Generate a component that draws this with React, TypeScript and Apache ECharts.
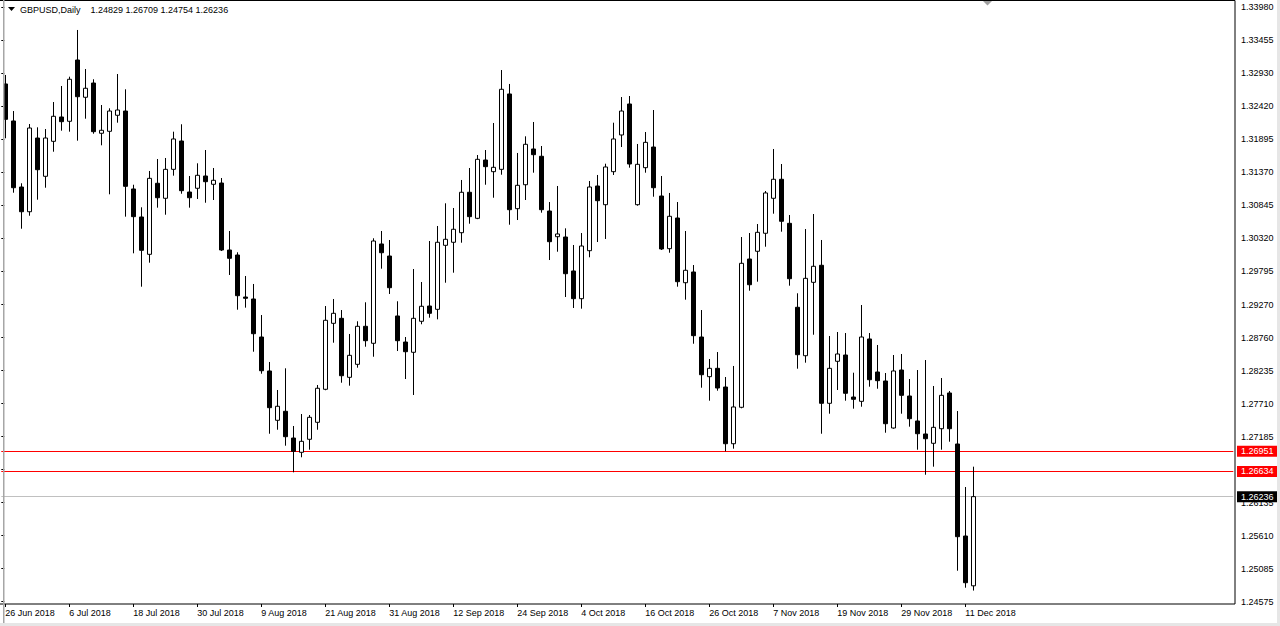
import React, { useEffect, useRef } from "react";
import * as echarts from "echarts";

const FONT = '"Liberation Sans", Arial, sans-serif';
const SYMBOL = "GBPUSD,Daily";
const BAR_COUNT = 122;
const SLOT_COUNT = 154;
const MONTHS = ["Jan", "Feb", "Mar", "Apr", "May", "Jun", "Jul", "Aug", "Sep", "Oct", "Nov", "Dec"];

const opens = [
  1.32748, 1.32164, 1.31122, 1.30732, 1.31895, 1.31291, 1.31843, 1.32227, 1.32159, 1.33126,
  1.32538, 1.32763, 1.3197, 1.32001, 1.32254, 1.32321, 1.31091, 1.30649, 1.3006, 1.31181,
  1.30944, 1.31401, 1.31848, 1.31043, 1.31102, 1.31296, 1.31165, 1.31185, 1.30128, 1.30049,
  1.29386, 1.29355, 1.28755, 1.28219, 1.27441, 1.27583, 1.27161, 1.26936, 1.27141, 1.27409,
  1.2793, 1.28971, 1.2905, 1.28119, 1.28324, 1.28924, 1.28656, 1.30223, 1.30033, 1.29087,
  1.28676, 1.28514, 1.29003, 1.29244, 1.29192, 1.30202, 1.3025, 1.30401, 1.31039, 1.30628,
  1.31548, 1.31364, 1.31401, 1.3259, 1.3078, 1.31158, 1.31722, 1.31607, 1.30743, 1.30338,
  1.30333, 1.29797, 1.2936, 1.30117, 1.31138, 1.30843, 1.31364, 1.31943, 1.32432, 1.30843,
  1.31427, 1.31753, 1.3098, 1.30149, 1.30633, 1.29612, 1.29781, 1.28755, 1.28129, 1.28261,
  1.27966, 1.27071, 1.27646, 1.29986, 1.30108, 1.30392, 1.30944, 1.31244, 1.30549, 1.29224,
  1.2846, 1.29618, 1.29887, 1.27709, 1.28372, 1.28471, 1.27808, 1.2774, 1.28724, 1.28203,
  1.28061, 1.27319, 1.28234, 1.27824, 1.2743, 1.27225, 1.27078, 1.27308, 1.27872, 1.27067,
  1.25615, 1.24829,
];
const closes = [
  1.3219, 1.31111, 1.30732, 1.32053, 1.31395, 1.31895, 1.32238, 1.32153, 1.32822, 1.32547,
  1.3268, 1.31995, 1.32017, 1.32321, 1.32337, 1.31133, 1.30654, 1.30123, 1.31259, 1.30953,
  1.31401, 1.3188, 1.31064, 1.30953, 1.31307, 1.31206, 1.31228, 1.30128, 1.29997, 1.29407,
  1.29366, 1.28807, 1.28223, 1.2764, 1.27662, 1.27182, 1.26951, 1.27109, 1.27488, 1.27946,
  1.29019, 1.29129, 1.28144, 1.28466, 1.28924, 1.28697, 1.3027, 1.30085, 1.29533, 1.28697,
  1.28523, 1.2905, 1.2924, 1.29129, 1.3025, 1.30297, 1.30455, 1.31039, 1.30654, 1.31559,
  1.31443, 1.31433, 1.32664, 1.30764, 1.31149, 1.31796, 1.31632, 1.30764, 1.30259, 1.30381,
  1.29754, 1.2936, 1.30191, 1.31122, 1.30906, 1.31438, 1.3188, 1.32321, 1.31485, 1.3148,
  1.31827, 1.31111, 1.30144, 1.3066, 1.29628, 1.29808, 1.28776, 1.2816, 1.28261, 1.2795,
  1.27071, 1.27651, 1.29918, 1.2958, 1.30407, 1.31028, 1.31244, 1.30581, 1.29675, 1.28476,
  1.29681, 1.29871, 1.27709, 1.28261, 1.28487, 1.27867, 1.27772, 1.28755, 1.28081, 1.28066,
  1.27387, 1.28219, 1.27835, 1.27466, 1.27229, 1.2715, 1.2733, 1.27835, 1.27308, 1.25604,
  1.24878, 1.26236,
];
const lows = [
  1.31891, 1.31032, 1.30464, 1.30669, 1.30922, 1.31111, 1.31679, 1.32011, 1.31995, 1.31853,
  1.322, 1.31963, 1.3178, 1.31007, 1.32137, 1.30654, 1.30076, 1.29549, 1.29928, 1.30796,
  1.30685, 1.31301, 1.31016, 1.30796, 1.30933, 1.30874, 1.30917, 1.30112, 1.29734, 1.29186,
  1.29218, 1.28523, 1.28176, 1.27229, 1.27292, 1.2704, 1.2662, 1.26857, 1.26977, 1.27292,
  1.27915, 1.28665, 1.28034, 1.27987, 1.28271, 1.28602, 1.28444, 1.29833, 1.29434, 1.28534,
  1.28092, 1.2784, 1.28956, 1.2906, 1.29034, 1.29612, 1.2977, 1.30243, 1.30543, 1.30615,
  1.31158, 1.30953, 1.31316, 1.30527, 1.30601, 1.30917, 1.31348, 1.30717, 1.2997, 1.30101,
  1.29386, 1.29213, 1.29202, 1.30013, 1.30254, 1.30302, 1.31312, 1.31753, 1.31427, 1.30827,
  1.31348, 1.30969, 1.30128, 1.30085, 1.29549, 1.29344, 1.28649, 1.27955, 1.2775, 1.27908,
  1.26951, 1.26993, 1.2763, 1.29486, 1.29628, 1.3018, 1.30701, 1.30417, 1.29565, 1.28255,
  1.2835, 1.28791, 1.27229, 1.27545, 1.27919, 1.2775, 1.27624, 1.27655, 1.27971, 1.27939,
  1.27245, 1.27308, 1.27545, 1.2734, 1.26977, 1.26582, 1.26709, 1.26977, 1.27103, 1.25067,
  1.24799, 1.24754,
];
const highs = [
  1.3289, 1.32321, 1.31181, 1.32116, 1.32064, 1.32037, 1.32463, 1.32716, 1.32863, 1.336,
  1.32984, 1.32822, 1.32416, 1.32364, 1.32905, 1.32664, 1.31158, 1.30802, 1.31375, 1.31564,
  1.3158, 1.31995, 1.32112, 1.31296, 1.31496, 1.31706, 1.31422, 1.31264, 1.30428, 1.30092,
  1.29718, 1.29592, 1.29102, 1.28361, 1.27919, 1.28261, 1.27351, 1.2754, 1.27524, 1.27998,
  1.29244, 1.29355, 1.29181, 1.28803, 1.29003, 1.29303, 1.30313, 1.30428, 1.30286, 1.29319,
  1.28755, 1.29828, 1.29623, 1.3027, 1.30507, 1.30865, 1.30791, 1.31233, 1.31422, 1.31627,
  1.31706, 1.32132, 1.32968, 1.32748, 1.31659, 1.31922, 1.32148, 1.31769, 1.30885, 1.31138,
  1.3047, 1.30207, 1.30396, 1.31217, 1.31312, 1.3149, 1.32137, 1.32542, 1.32558, 1.31801,
  1.3199, 1.32337, 1.31296, 1.31028, 1.30885, 1.30428, 1.29891, 1.29181, 1.28408, 1.28518,
  1.28124, 1.28298, 1.30333, 1.30396, 1.30538, 1.31059, 1.31722, 1.31485, 1.3068, 1.29445,
  1.30459, 1.30696, 1.30286, 1.28771, 1.28834, 1.28818, 1.28192, 1.2926, 1.28818, 1.28629,
  1.28187, 1.28471, 1.28487, 1.28092, 1.28234, 1.28392, 1.27982, 1.28108, 1.27903, 1.27587,
  1.26388, 1.26709,
];

// price scale tick labels, bottom to top
const priceLabels = [
  "1.24575", "1.25085", "1.25610", "1.26135", "1.26660", "1.27185", "1.27710", "1.28235",
  "1.28760", "1.29270", "1.29795", "1.30320", "1.30845", "1.31370", "1.31895", "1.32420",
  "1.32930", "1.33455", "1.33980",
];

// horizontal levels
const levelValues = [1.26951, 1.26634, 1.26236];
const levelLineColors = ["#ff0000", "#ff0000", "#c0c0c0"];
const levelBoxColors = ["#ff0000", "#ff0000", "#000000"];

const PRICE_MIN = 1.24542;
const PRICE_MAX = 1.34073;

function tradingDays(): string[] {
  const out: string[] = [];
  const d = new Date(Date.UTC(2018, 5, 26));
  while (out.length < BAR_COUNT) {
    const wd = d.getUTCDay();
    if (wd !== 0 && wd !== 6) {
      out.push(`${d.getUTCDate()} ${MONTHS[d.getUTCMonth()]} ${d.getUTCFullYear()}`);
    }
    d.setUTCDate(d.getUTCDate() + 1);
  }
  return out;
}

export default function App() {
  const ref = useRef<HTMLDivElement>(null);

  useEffect(() => {
    if (!ref.current) return;
    const chart = echarts.init(ref.current, null, { renderer: "svg" });

    const dates = tradingDays();
    const categories = [
      ...dates,
      ...Array.from({ length: SLOT_COUNT - BAR_COUNT }, (_, k) => `shift${k}`),
    ];
    const candles = opens.map((o, i) => [o, closes[i], lows[i], highs[i]]);
    const showTick = (index: number) => index % 8 === 0 && index < BAR_COUNT;
    const last = BAR_COUNT - 1;
    const headerValues = [opens[last], highs[last], lows[last], closes[last]]
      .map((v) => v.toFixed(5))
      .join(" ");

    const option: any = {
      animation: false,
      backgroundColor: "#ffffff",
      textStyle: { fontFamily: FONT },
      grid: [
        { left: 1.3, top: 0, width: 1232, height: 604, show: false, outerBoundsMode: "none", containLabel: false },
        { left: 1.3, right: 45, top: 7.3, height: 594.4, show: false, outerBoundsMode: "none", containLabel: false },
      ],
      xAxis: [
        {
          type: "category",
          gridIndex: 0,
          data: categories,
          boundaryGap: true,
          axisLine: { show: false },
          axisTick: {
            show: true,
            interval: showTick,
            alignWithLabel: true,
            length: 3,
            lineStyle: { color: "#000", width: 1 },
          },
          axisLabel: {
            show: true,
            interval: showTick,
            align: "left",
            margin: 4,
            fontSize: 9,
            fontFamily: FONT,
            color: "#000",
          },
          splitLine: { show: false },
        },
        { type: "value", gridIndex: 1, show: false, min: 0, max: 1 },
      ],
      yAxis: [
        {
          type: "value",
          gridIndex: 0,
          min: PRICE_MIN,
          max: PRICE_MAX,
          show: false,
          splitLine: { show: false },
        },
        {
          type: "category",
          gridIndex: 1,
          position: "right",
          data: priceLabels,
          boundaryGap: false,
          axisLine: { show: false },
          axisTick: { show: true, length: 3, interval: 0, lineStyle: { color: "#000", width: 1 } },
          axisLabel: {
            show: true,
            interval: 0,
            margin: 6,
            fontSize: 9,
            fontFamily: FONT,
            color: "#000",
          },
          splitLine: { show: false },
        },
      ],
      series: [
        {
          type: "candlestick",
          xAxisIndex: 0,
          yAxisIndex: 0,
          data: candles,
          barWidth: 4,
          itemStyle: {
            color: "#ffffff",
            color0: "#000000",
            borderColor: "#000000",
            borderColor0: "#000000",
            borderColorDoji: "#000000",
            borderWidth: 1,
          },
          markLine: {
            silent: true,
            z: 1,
            precision: 5,
            symbol: ["none", "none"],
            data: levelValues.map((v, i) => ({
              yAxis: v,
              lineStyle: { color: levelLineColors[i], width: 1, type: "solid" },
              label: {
                show: true,
                position: "end",
                distance: 3.7,
                formatter: () => v.toFixed(5),
                color: "#ffffff",
                backgroundColor: levelBoxColors[i],
                padding: [1, 4, 0, 4],
                lineHeight: 10,
                fontSize: 9,
                fontFamily: FONT,
              },
            })),
          },
        },
      ],
      graphic: [
        {
          type: "rect",
          silent: true,
          z: 100,
          shape: { x: -2, y: 0.5, width: 1237, height: 603.5 },
          style: { fill: "none", stroke: "#000000", lineWidth: 1 },
        },
        { type: "rect", silent: true, z: 101, shape: { x: 3, y: 0, width: 1.5, height: 626 }, style: { fill: "#a6a6a6" } },
        { type: "rect", silent: true, z: 101, shape: { x: 1277, y: 0, width: 3, height: 626 }, style: { fill: "#e6e6e6" } },
        { type: "rect", silent: true, z: 101, shape: { x: 0, y: 623, width: 1280, height: 3 }, style: { fill: "#e6e6e6" } },
        {
          type: "polygon",
          silent: true,
          z: 102,
          shape: { points: [[8, 7], [15, 7], [11.5, 11]] },
          style: { fill: "#000000" },
        },
        {
          type: "polygon",
          silent: true,
          z: 102,
          shape: { points: [[983, 1], [992, 1], [987.5, 5.5]] },
          style: { fill: "#a0a0a0" },
        },
        {
          type: "text",
          silent: true,
          z: 102,
          x: 20,
          y: 9.5,
          style: { text: SYMBOL, fill: "#000", font: `9px ${FONT}`, verticalAlign: "middle", align: "left" },
        },
        {
          type: "text",
          silent: true,
          z: 102,
          x: 90.5,
          y: 9.5,
          style: { text: headerValues, fill: "#000", font: `9px ${FONT}`, verticalAlign: "middle", align: "left" },
        },
      ],
    };

    chart.setOption(option);
    return () => chart.dispose();
  }, []);

  return (
    <div
      ref={ref}
      style={{ position: "absolute", left: 0, top: 0, width: 1280, height: 626, background: "#fff" }}
    />
  );
}
